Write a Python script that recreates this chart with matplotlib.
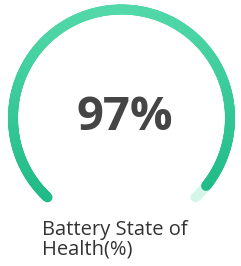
import numpy as np
import matplotlib
matplotlib.use("Agg")
import matplotlib.pyplot as plt
from matplotlib.collections import LineCollection
from matplotlib.colors import LinearSegmentedColormap

value = 97
max_value = 100
value_label = "97%"
title_lines = ["Battery State of", "Health(%)"]

start_deg, end_deg = 227, -47
top_color, bottom_color = "#52d8a9", "#20bb88"
track_color = "#d3f6e8"

W, H = 241, 266
fig = plt.figure(figsize=(W / 100, H / 100), dpi=100)
ax = fig.add_axes([0, 0, 1, 1])
ax.set_xlim(0, W)
ax.set_ylim(H, 0)
ax.axis("off")

cx, cy, r, lw_px = 121.5, 118, 108.5, 10
lw = lw_px * 72 / 100

# track (remaining part)
val_deg = start_deg - (start_deg - end_deg) * value / max_value
t = np.radians(np.linspace(val_deg, end_deg, 50))
ax.plot(cx + r * np.cos(t), cy - r * np.sin(t), color=track_color, lw=lw,
        solid_capstyle="round", zorder=1)

# value arc with vertical gradient
n = 400
t = np.radians(np.linspace(start_deg, val_deg, n))
x = cx + r * np.cos(t)
y = cy - r * np.sin(t)
pts = np.column_stack([x, y]).reshape(-1, 1, 2)
segs = np.concatenate([pts[:-1], pts[1:]], axis=1)
cmap = LinearSegmentedColormap.from_list("g", [top_color, bottom_color])
ymid = (y[:-1] + y[1:]) / 2
cvals = (ymid - (cy - r)) / (2 * r * 0.85)
lc = LineCollection(segs, colors=cmap(np.clip(cvals, 0, 1)), linewidths=lw,
                    capstyle="round", zorder=2)
ax.add_collection(lc)

ax.text(cx + 3, 118, value_label, ha="center", va="center", fontsize=34,
        fontweight="bold", color="#454545", family="Open Sans")
ax.text(42, 220, title_lines[0] + "\n" + title_lines[1], ha="left", va="top",
        fontsize=14.5, color="#333333", family="Open Sans", linespacing=0.98)

fig.savefig("out.png", dpi=100)
